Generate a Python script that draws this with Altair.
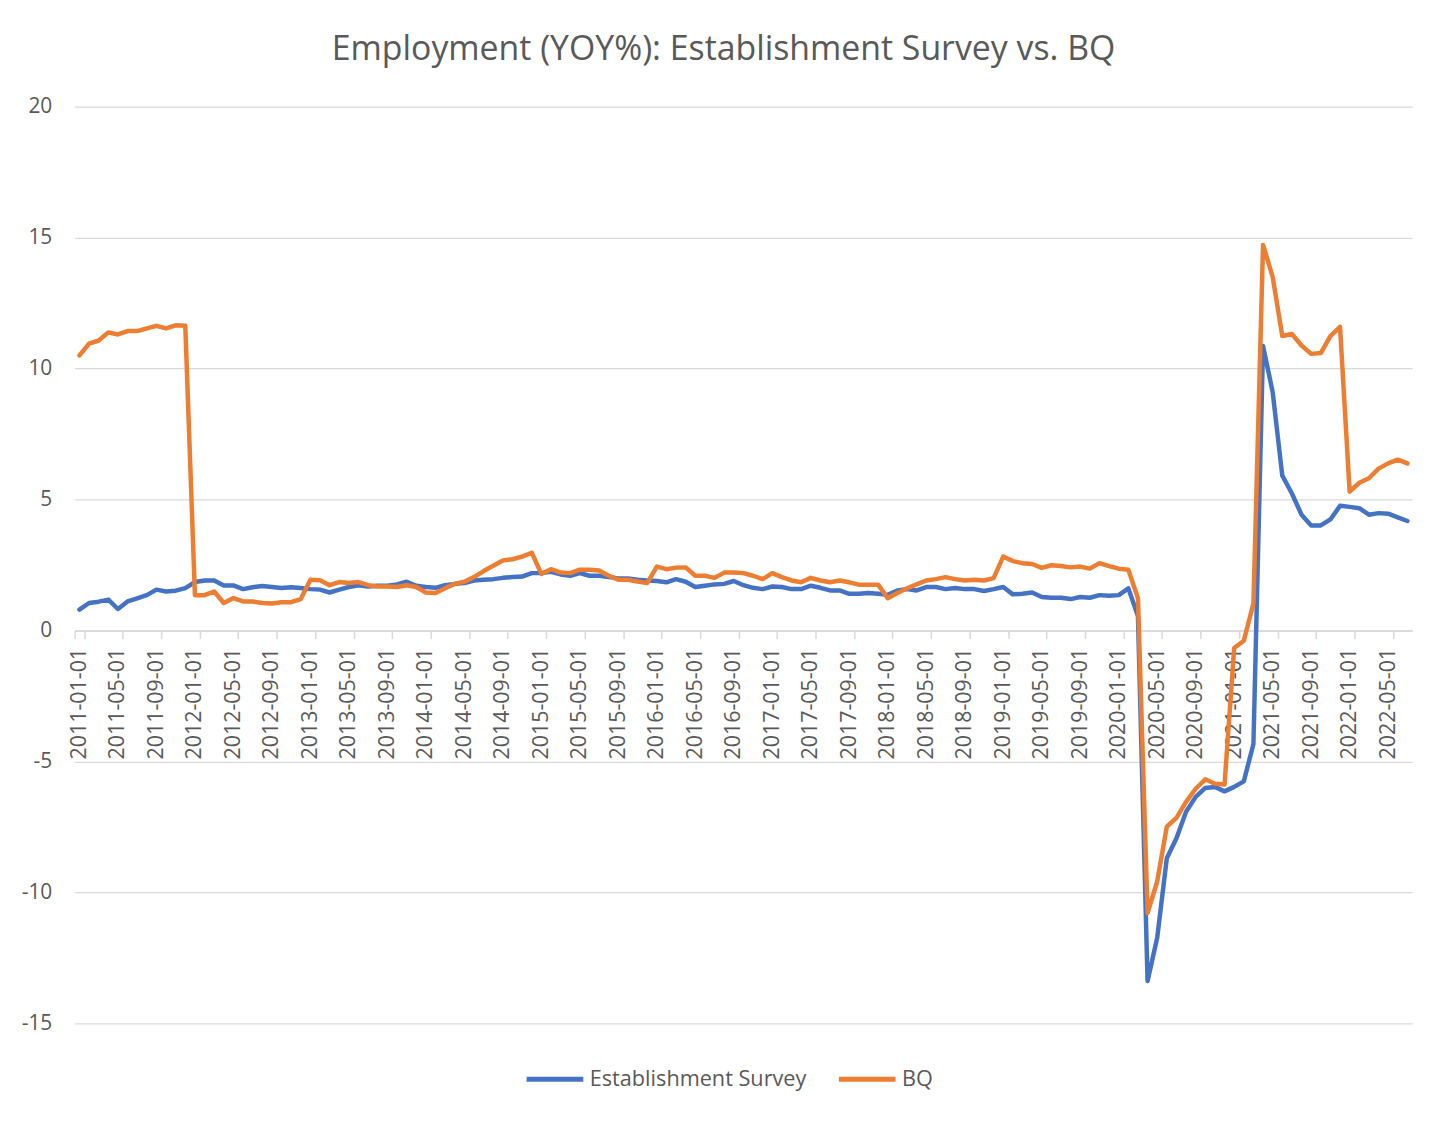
import altair as alt
import pandas as pd

# Monthly categories (2011-01 .. 2022-07)
dates = list(pd.date_range("2011-01-01", periods=139, freq="MS").strftime("%Y-%m-%d"))
tick_labels = dates[::4]

establishment = [
    0.80, 1.05, 1.10, 1.18, 0.82, 1.11, 1.23, 1.35, 1.56, 1.49, 1.52, 1.62,
    1.85, 1.91, 1.91, 1.72, 1.72, 1.58, 1.65, 1.70, 1.66, 1.62, 1.65, 1.62,
    1.58, 1.56, 1.45, 1.56, 1.66, 1.73, 1.68, 1.71, 1.71, 1.76, 1.86, 1.71,
    1.66, 1.63, 1.73, 1.78, 1.81, 1.91, 1.94, 1.96, 2.01, 2.04, 2.06, 2.19,
    2.19, 2.24, 2.14, 2.09, 2.19, 2.09, 2.09, 2.04, 1.99, 1.99, 1.94, 1.91,
    1.89, 1.84, 1.96, 1.86, 1.66, 1.71, 1.76, 1.78, 1.89, 1.73, 1.63, 1.58,
    1.68, 1.66, 1.58, 1.58, 1.71, 1.63, 1.53, 1.53, 1.40, 1.40, 1.43, 1.40,
    1.36, 1.53, 1.58, 1.53, 1.66, 1.66, 1.58, 1.62, 1.58, 1.58, 1.51, 1.58,
    1.66, 1.38, 1.40, 1.45, 1.28, 1.25, 1.25, 1.20, 1.28, 1.25, 1.35, 1.33,
    1.35, 1.61, 0.55, -13.38, -11.73, -8.69, -7.93, -6.92, -6.35, -6.01, -5.97, -6.14,
    -5.97, -5.76, -4.33, 10.86, 9.10, 5.91, 5.23, 4.42, 4.01, 4.01, 4.24, 4.76,
    4.72, 4.67, 4.42, 4.48, 4.46, 4.32, 4.18,
]

bq = [
    10.50, 10.95, 11.07, 11.38, 11.30, 11.43, 11.43, 11.53, 11.63, 11.53, 11.65, 11.63,
    1.35, 1.35, 1.49, 1.05, 1.24, 1.11, 1.11, 1.05, 1.03, 1.08, 1.08, 1.20,
    1.94, 1.92, 1.73, 1.85, 1.81, 1.85, 1.73, 1.68, 1.68, 1.66, 1.73, 1.66,
    1.45, 1.43, 1.61, 1.78, 1.86, 2.04, 2.27, 2.47, 2.67, 2.72, 2.82, 2.97,
    2.16, 2.34, 2.21, 2.19, 2.32, 2.32, 2.29, 2.09, 1.94, 1.94, 1.87, 1.81,
    2.44, 2.34, 2.40, 2.41, 2.09, 2.09, 2.01, 2.21, 2.21, 2.19, 2.09, 1.96,
    2.19, 2.04, 1.91, 1.84, 2.01, 1.91, 1.84, 1.91, 1.84, 1.75, 1.75, 1.75,
    1.23, 1.43, 1.61, 1.76, 1.91, 1.96, 2.04, 1.96, 1.91, 1.94, 1.91, 2.00,
    2.82, 2.65, 2.57, 2.54, 2.39, 2.49, 2.46, 2.41, 2.44, 2.36, 2.57, 2.46,
    2.36, 2.32, 1.23, -10.78, -9.58, -7.49, -7.15, -6.54, -6.04, -5.68, -5.85, -5.88,
    -0.67, -0.39, 1.03, 14.72, 13.50, 11.24, 11.32, 10.88, 10.56, 10.59, 11.24, 11.59,
    5.30, 5.64, 5.81, 6.18, 6.38, 6.52, 6.38,
]

series_names = ["Establishment Survey", "BQ"]
series_colors = ["#4472C4", "#ED7D31"]
y_ticks = [-15, -10, -5, 0, 5, 10, 15, 20]

df = pd.concat([
    pd.DataFrame({"date": dates, "value": establishment, "series": series_names[0]}),
    pd.DataFrame({"date": dates, "value": bq, "series": series_names[1]}),
], ignore_index=True)

W, H = 1345, 922
FONT = "Open Sans"
TXT = "#595959"
GRID = "#d9d9d9"

chart = alt.Chart(df).mark_line(strokeWidth=4.5, strokeJoin="round", strokeCap="round").encode(
    x=alt.X(
        "date:O",
        sort=None,
        scale=alt.Scale(type="band", paddingInner=0, paddingOuter=0),
        axis=alt.Axis(
            values=tick_labels, title=None, labelAngle=270, tickBand="extent",
            tickSize=8, tickColor=GRID, tickWidth=1.5, domainColor=GRID, domainWidth=1.5,
            labelColor=TXT, labelFont=FONT, labelFontSize=21.5, labelPadding=9,
            offset=-(H * 15 / 35), grid=False,
        ),
    ),
    y=alt.Y(
        "value:Q",
        scale=alt.Scale(domain=[-15, 20], nice=False, zero=False),
        axis=alt.Axis(
            values=y_ticks, title=None, domain=False, ticks=False,
            gridColor=GRID, gridWidth=1.3, labelColor=TXT, labelFont=FONT,
            labelFontSize=21, labelPadding=23, labelExpr="'' + datum.value",
        ),
    ),
    color=alt.Color(
        "series:N",
        sort=series_names,
        scale=alt.Scale(domain=series_names, range=series_colors),
        legend=alt.Legend(
            orient="none", legendX=452, legendY=947, direction="horizontal", title=None,
            symbolType="stroke", symbolSize=3249, symbolStrokeWidth=5,
            labelFont=FONT, labelFontSize=21.8, labelColor=TXT, columnPadding=22,
            labelOffset=4, padding=0, labelLimit=0,
        ),
    ),
).properties(
    width=W,
    height=H,
    autosize="none",
    padding={"left": 67, "top": 96, "right": 36, "bottom": 100},
    title=alt.TitleParams(
        "Employment (YOY%): Establishment Survey vs. BQ",
        font=FONT, fontSize=34, fontWeight="normal", color=TXT,
        anchor="middle", frame="group", baseline="bottom", offset=-5, dx=-20,
    ),
).configure_view(stroke=None)

chart.save("out.html", embed_options={"renderer": "svg", "actions": False})
